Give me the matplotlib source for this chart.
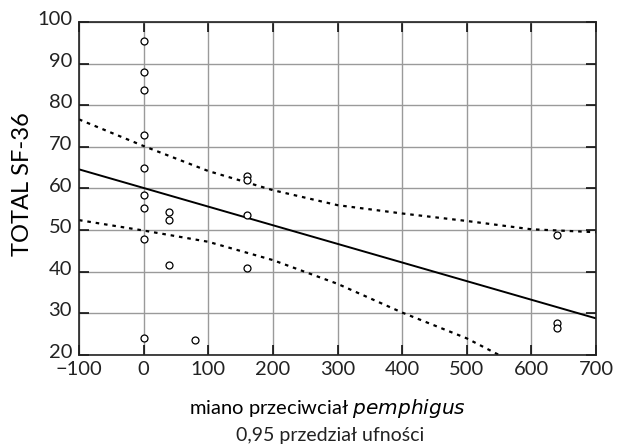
import numpy as np
import matplotlib as mpl
mpl.use('agg')
import matplotlib.pyplot as plt
import matplotlib.transforms as mtransforms

plt.rcParams['font.family'] = ['Lato', 'DejaVu Sans']

## observed points (titre, TOTAL SF-36)
titre = [0, 0, 0, 0, 0, 0, 0, 0, 0,
         40, 40, 40,
         80,
         160, 160, 160, 160,
         640, 640, 640]
sf36 = [95.5, 88.0, 83.7, 72.9, 64.9, 58.4, 55.2, 47.9, 24.0,
        54.4, 52.4, 41.6,
        23.6,
        63.1, 62.0, 53.7, 40.8,
        48.9, 27.8, 26.6]

## regression line
fit_x = [-100, 700]
fit_y = [64.6, 28.8]

## 0.95 confidence band
band_x = [-100, 0, 100, 200, 300, 400, 500, 600, 700]
band_upper = [76.6, 70.2, 64.2, 59.6, 56.0, 54.0, 52.2, 50.2, 49.5]
band_lower = [52.4, 49.9, 47.2, 42.8, 37.1, 30.2, 24.0, 16.0, 8.1]

xticks = [-100, 0, 100, 200, 300, 400, 500, 600, 700]
xticklabels = ['\u2212100', '0', '100', '200', '300', '400', '500', '600', '700']
yticks = [20, 30, 40, 50, 60, 70, 80, 90, 100]

fig = plt.figure(figsize=(6.19, 4.47), dpi=100)
ax = fig.add_axes([79/619, 1 - 355/447, 517/619, 333/447])

ax.grid(True, color='#9a9a9a', linewidth=1.0)
ax.set_axisbelow(True)

ax.plot(band_x, band_upper, color='black', linestyle=(0, (1.6, 2.2)), linewidth=1.6)
ax.plot(band_x, band_lower, color='black', linestyle=(0, (1.6, 2.2)), linewidth=1.6)
ax.plot(fit_x, fit_y, color='black', linewidth=1.4)
ax.plot(titre, sf36, linestyle='', marker='o', ms=5, mfc='white', mec='black', mew=0.9)

ax.set_xlim(-100, 700)
ax.set_ylim(20, 100)
ax.set_xticks(xticks)
ax.set_xticklabels(xticklabels)
ax.set_yticks(yticks)

ax.tick_params(direction='in', length=7, width=1.1, top=True, right=True,
               labelsize=14.5, colors='black', labelcolor='#222222')
ax.tick_params(axis='x', pad=4)
ax.tick_params(axis='y', pad=5)
# y labels sit a little above their grid line in the original
shift = mtransforms.ScaledTranslation(0, 4/100, fig.dpi_scale_trans)
for lab in ax.get_yticklabels():
    lab.set_transform(lab.get_transform() + shift)
for s in ax.spines.values():
    s.set_linewidth(1.2)
    s.set_color('#222222')

fig.text(23/619, 1 - 184/447, 'TOTAL SF-36', rotation=90, ha='center', va='center',
         fontsize=17, color='black')
fig.text(328/619, 1 - 408/447, 'miano przeciwciał $\\it{pemphigus}$', ha='center',
         va='center', fontsize=14.5, color='black')
fig.text(330/619, 1 - 436/447, '0,95 przedział ufności', ha='center', va='center',
         fontsize=14, color='#222222')

fig.savefig('out.png', dpi=100)
